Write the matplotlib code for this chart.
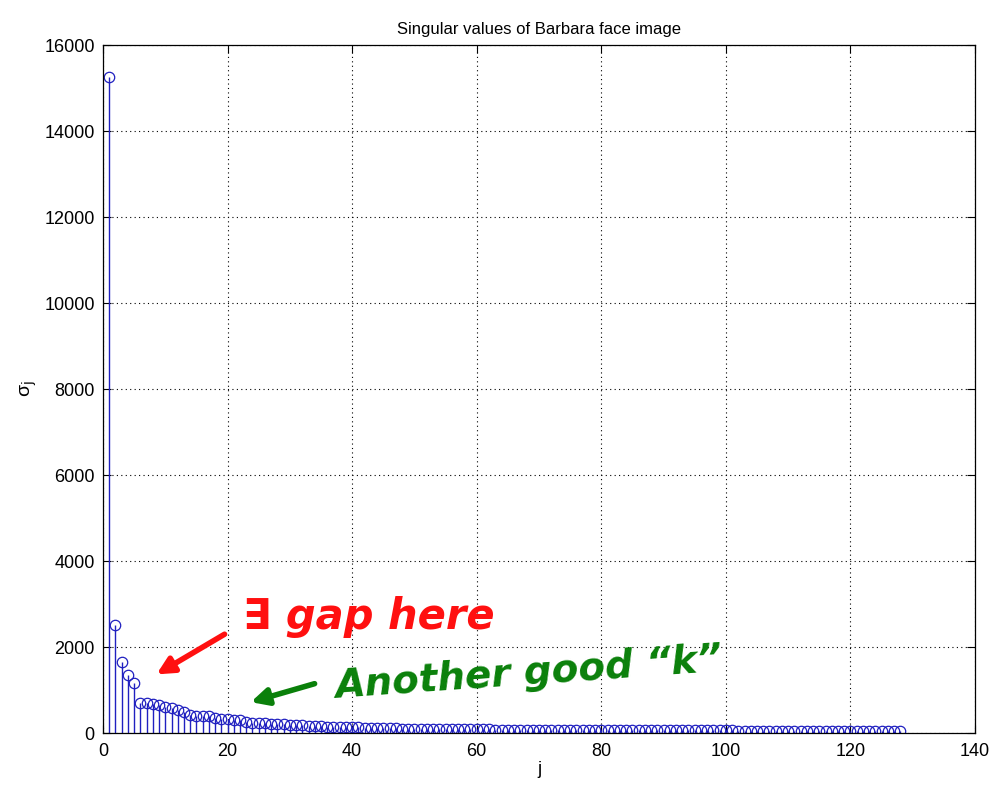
import matplotlib.pyplot as plt
import numpy as np

# singular values (j = 1..128)
sigma_head = [15250, 2515, 1655, 1350, 1165, 706, 691, 668, 652, 613,
              575, 536, 481, 419, 404, 396, 396, 357, 326, 318,
              303, 303, 264, 241, 225, 225, 217, 210, 200, 190,
              182, 175, 168, 162, 156, 150, 145, 140, 136, 133,
              128, 124, 120, 116, 113, 110, 107, 104, 101, 99,
              97, 95, 93, 91, 89, 88, 87, 86, 85, 84]
sigma_tail = [83, 82, 81, 80, 79, 78, 77, 77, 76, 75,
              75, 74, 73, 73, 72, 72, 71, 70, 70, 69,
              69, 68, 68, 67, 67, 66, 66, 65, 65, 64,
              64, 63, 63, 62, 62, 61, 61, 60, 60, 59,
              59, 58, 58, 57, 57, 56, 56, 55, 55, 54,
              54, 53, 52, 52, 51, 50, 49, 48, 47, 46,
              45, 44, 43, 42, 41, 40, 38, 35]
sigma = np.array(sigma_head + sigma_tail)
j = np.arange(1, len(sigma) + 1)

plt.rcParams['font.family'] = ['Liberation Sans', 'DejaVu Sans']

fig = plt.figure(figsize=(9.93, 7.88), dpi=100)
ax = fig.add_axes([103 / 993, 55 / 788, 872 / 993, 688 / 788])

blue = '#2020c0'
markerline, stemlines, baseline = ax.stem(j, sigma, basefmt=' ')
plt.setp(stemlines, color=blue, linewidth=1.0)
plt.setp(markerline, marker='o', markersize=7.5, markerfacecolor='none',
         markeredgecolor=blue, markeredgewidth=0.9, linestyle='none')

ax.set_xlim(0, 140)
ax.set_ylim(0, 16000)
ax.set_xticks(np.arange(0, 141, 20))
ax.set_yticks(np.arange(0, 16001, 2000))
ax.grid(True, color='black', linestyle=(0, (1, 3)), linewidth=0.8)
ax.tick_params(direction='in', top=True, right=True, labelsize=13, length=6)
ax.tick_params(axis='x', pad=7)
ax.tick_params(axis='y', pad=6)
for s in ax.spines.values():
    s.set_linewidth(0.9)

ax.set_title('Singular values of Barbara face image', fontsize=12, pad=8)
ax.set_xlabel('j', fontsize=13, labelpad=1)
ax.set_ylabel('\u03c3$_{\\rm j}$', fontsize=14, labelpad=4)

# handwritten-style notes
red = '#ff1010'
green = '#0a800a'
ax.annotate('', xy=(8.2, 1330), xytext=(19.9, 2330),
            arrowprops=dict(arrowstyle='-|>', color=red, lw=4,
                            mutation_scale=25))
ax.text(22.5, 2700, '\u2203 gap here', color=red, fontsize=30,
        fontweight='bold', fontstyle='italic', va='center', ha='left',
        family=['DejaVu Sans'])
ax.annotate('', xy=(23.3, 700), xytext=(34.4, 1165),
            arrowprops=dict(arrowstyle='-|>', color=green, lw=4,
                            mutation_scale=25))
ax.text(37, 1380, 'Another good \u201ck\u201d', color=green, fontsize=28,
        fontweight='bold', fontstyle='italic', va='center', ha='left',
        rotation=4, family=['DejaVu Sans'])

fig.savefig('out.png', dpi=100)
